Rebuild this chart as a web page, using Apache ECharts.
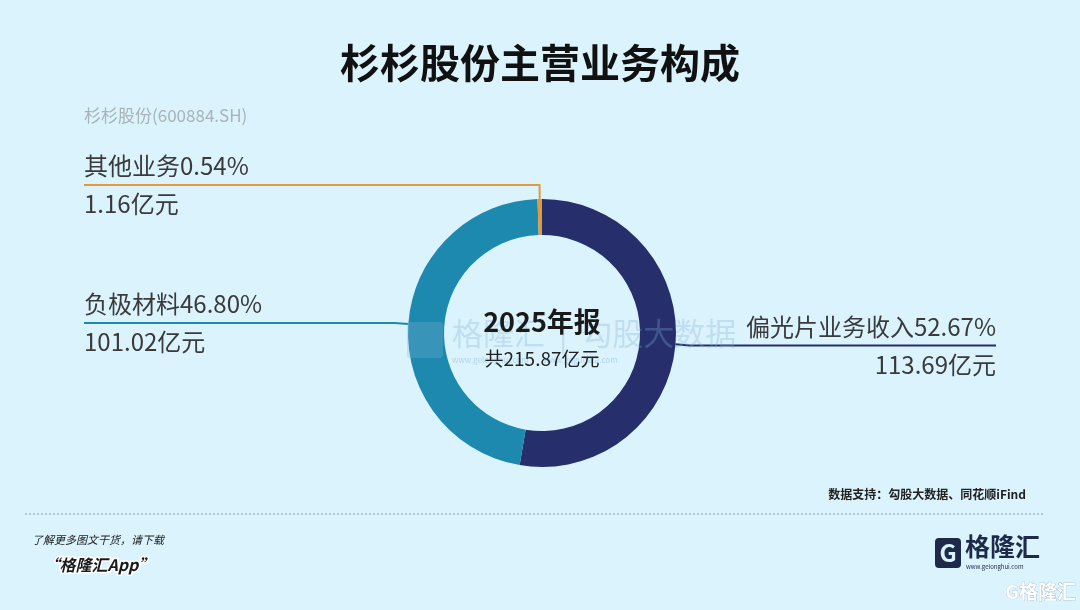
<!DOCTYPE html>
<html>
<head>
<meta charset="utf-8">
<title>杉杉股份主营业务构成</title>
<script src="https://cdn.jsdelivr.net/npm/echarts@6/dist/echarts.min.js"></script>
<style>
  html, body { margin: 0; padding: 0; background: #DAF3FC; }
  #chart { width: 1080px; height: 610px; }
</style>
</head>
<body>
<div id="chart"></div>
<script>
// data
var names = ['偏光片业务收入', '负极材料', '其他业务'];
var values = [113.69, 101.02, 1.16];   // 亿元
var colors = ['#262F6B', '#1E89AF', '#E29A3D'];
var period = '2025年报';
var total = 215.87;

var font = '"Noto Sans CJK SC", "Noto Sans", sans-serif';
var chart = echarts.init(document.getElementById('chart'));

var pieData = names.map(function (n, i) {
    return { name: n, value: values[i], itemStyle: { color: colors[i] } };
});

var option = {
    backgroundColor: '#DAF3FC',
    title: [
        {
            text: '杉杉股份主营业务构成',
            left: 'center',
            top: 38,
            textStyle: { fontFamily: font, fontSize: 40, fontWeight: 'bold', color: '#111' }
        },
        {
            text: '杉杉股份(600884.SH)',
            left: 79,
            top: 102,
            textStyle: { fontFamily: font, fontSize: 17, fontWeight: 'normal', color: '#a9b3b8' }
        }
    ],
    graphic: [
        // faint watermark over the ring
        {
            type: 'rect', z: 20, silent: true,
            shape: { x: 407, y: 322, width: 36, height: 36, r: 3 },
            style: { fill: 'rgba(130,175,215,0.28)' }
        },
        {
            type: 'text', left: 452, top: 318, z: 20, silent: true,
            style: { text: '格隆汇  |  勾股大数据', fontFamily: font, fontSize: 31,
                     fill: 'rgba(130,175,215,0.30)' }
        },
        {
            type: 'text', left: 452, top: 356, z: 20, silent: true,
            style: { text: 'www.gelonghui.com        www.gogudata.com', fontFamily: font, fontSize: 8,
                     fill: 'rgba(130,175,215,0.45)' }
        },
        // centre text
        {
            type: 'text', x: 542, y: 322, z: 30,
            style: { text: period, fontFamily: font, fontSize: 27, fontWeight: 'bold',
                     fill: '#1a1a1a', align: 'center', verticalAlign: 'middle' }
        },
        {
            type: 'text', x: 542, y: 359, z: 30,
            style: { text: '共' + total.toFixed(2) + '亿元', fontFamily: font, fontSize: 19,
                     fill: '#222', align: 'center', verticalAlign: 'middle' }
        },
        // footer
        {
            type: 'text', right: 54, top: 488,
            style: { text: '数据支持：勾股大数据、同花顺iFind', fontFamily: font, fontSize: 12,
                     fontWeight: 'bold', fill: '#222' }
        },
        {
            type: 'line', shape: { x1: 25, y1: 514, x2: 1045, y2: 514 },
            style: { stroke: '#8a9aa2', lineWidth: 1, lineDash: [2, 2] }
        },
        {
            type: 'text', left: 32, top: 534,
            style: { text: '了解更多图文干货，请下载', fontFamily: font, fontSize: 11,
                     fontStyle: 'italic', fill: '#222' }
        },
        {
            type: 'text', left: 42, top: 555,
            style: { text: '“格隆汇App”', fontFamily: font, fontSize: 16, fontStyle: 'italic',
                     fontWeight: 'bold', fill: '#1a1a1a', stroke: '#fff', lineWidth: 3 }
        },
        // logo
        {
            type: 'rect', shape: { x: 935, y: 538, width: 26, height: 30, r: 4 },
            style: { fill: '#1d2a4a' }
        },
        {
            type: 'text', x: 948, y: 553,
            style: { text: 'G', fontFamily: font, fontSize: 24, fontWeight: 'bold',
                     fill: '#DAF3FC', align: 'center', verticalAlign: 'middle' }
        },
        {
            type: 'text', left: 965, top: 534,
            style: { text: '格隆汇', fontFamily: font, fontSize: 25, fontWeight: 'bold', fill: '#1d2a4a' }
        },
        {
            type: 'text', left: 966, top: 564,
            style: { text: 'www.gelonghui.com', fontFamily: font, fontSize: 6, fill: '#1d2a4a' }
        },
        {
            type: 'text', left: 1005, top: 582,
            style: { text: 'G格隆汇', fontFamily: font, fontSize: 19, fontWeight: 'bold',
                     fill: '#fff', stroke: '#9ab', lineWidth: 0.6 }
        }
    ],
    series: [
        {
            type: 'pie',
            center: [542, 333],
            radius: [98, 134],
            startAngle: 90,
            clockwise: true,
            avoidLabelOverlap: false,
            z: 5,
            label: {
                alignTo: 'edge',
                edgeDistance: 84,
                fontFamily: font,
                color: '#3a3a3a',
                lineHeight: 38,
                formatter: function (p) {
                    var pct = (p.value / total * 100).toFixed(2);
                    return '{n|' + p.name + pct + '%}\n{v|' + p.value.toFixed(2) + '亿元}';
                },
                rich: {
                    n: { fontFamily: font, fontSize: 24, color: '#3a3a3a', lineHeight: 38 },
                    v: { fontFamily: font, fontSize: 24, color: '#3a3a3a', lineHeight: 38 }
                }
            },
            labelLine: {
                show: true,
                length: 14,
                length2: 20,
                smooth: false,
                lineStyle: { width: 2 }
            },
            labelLayout: function (params) {
                var isLeft = params.labelRect.x < chart.getWidth() / 2;
                var points = params.labelLinePoints;
                points[2][0] = isLeft ? params.labelRect.x : params.labelRect.x + params.labelRect.width;
                return { labelLinePoints: points };
            },
            data: pieData
        }
    ]
};

chart.setOption(option);
</script>
</body>
</html>
